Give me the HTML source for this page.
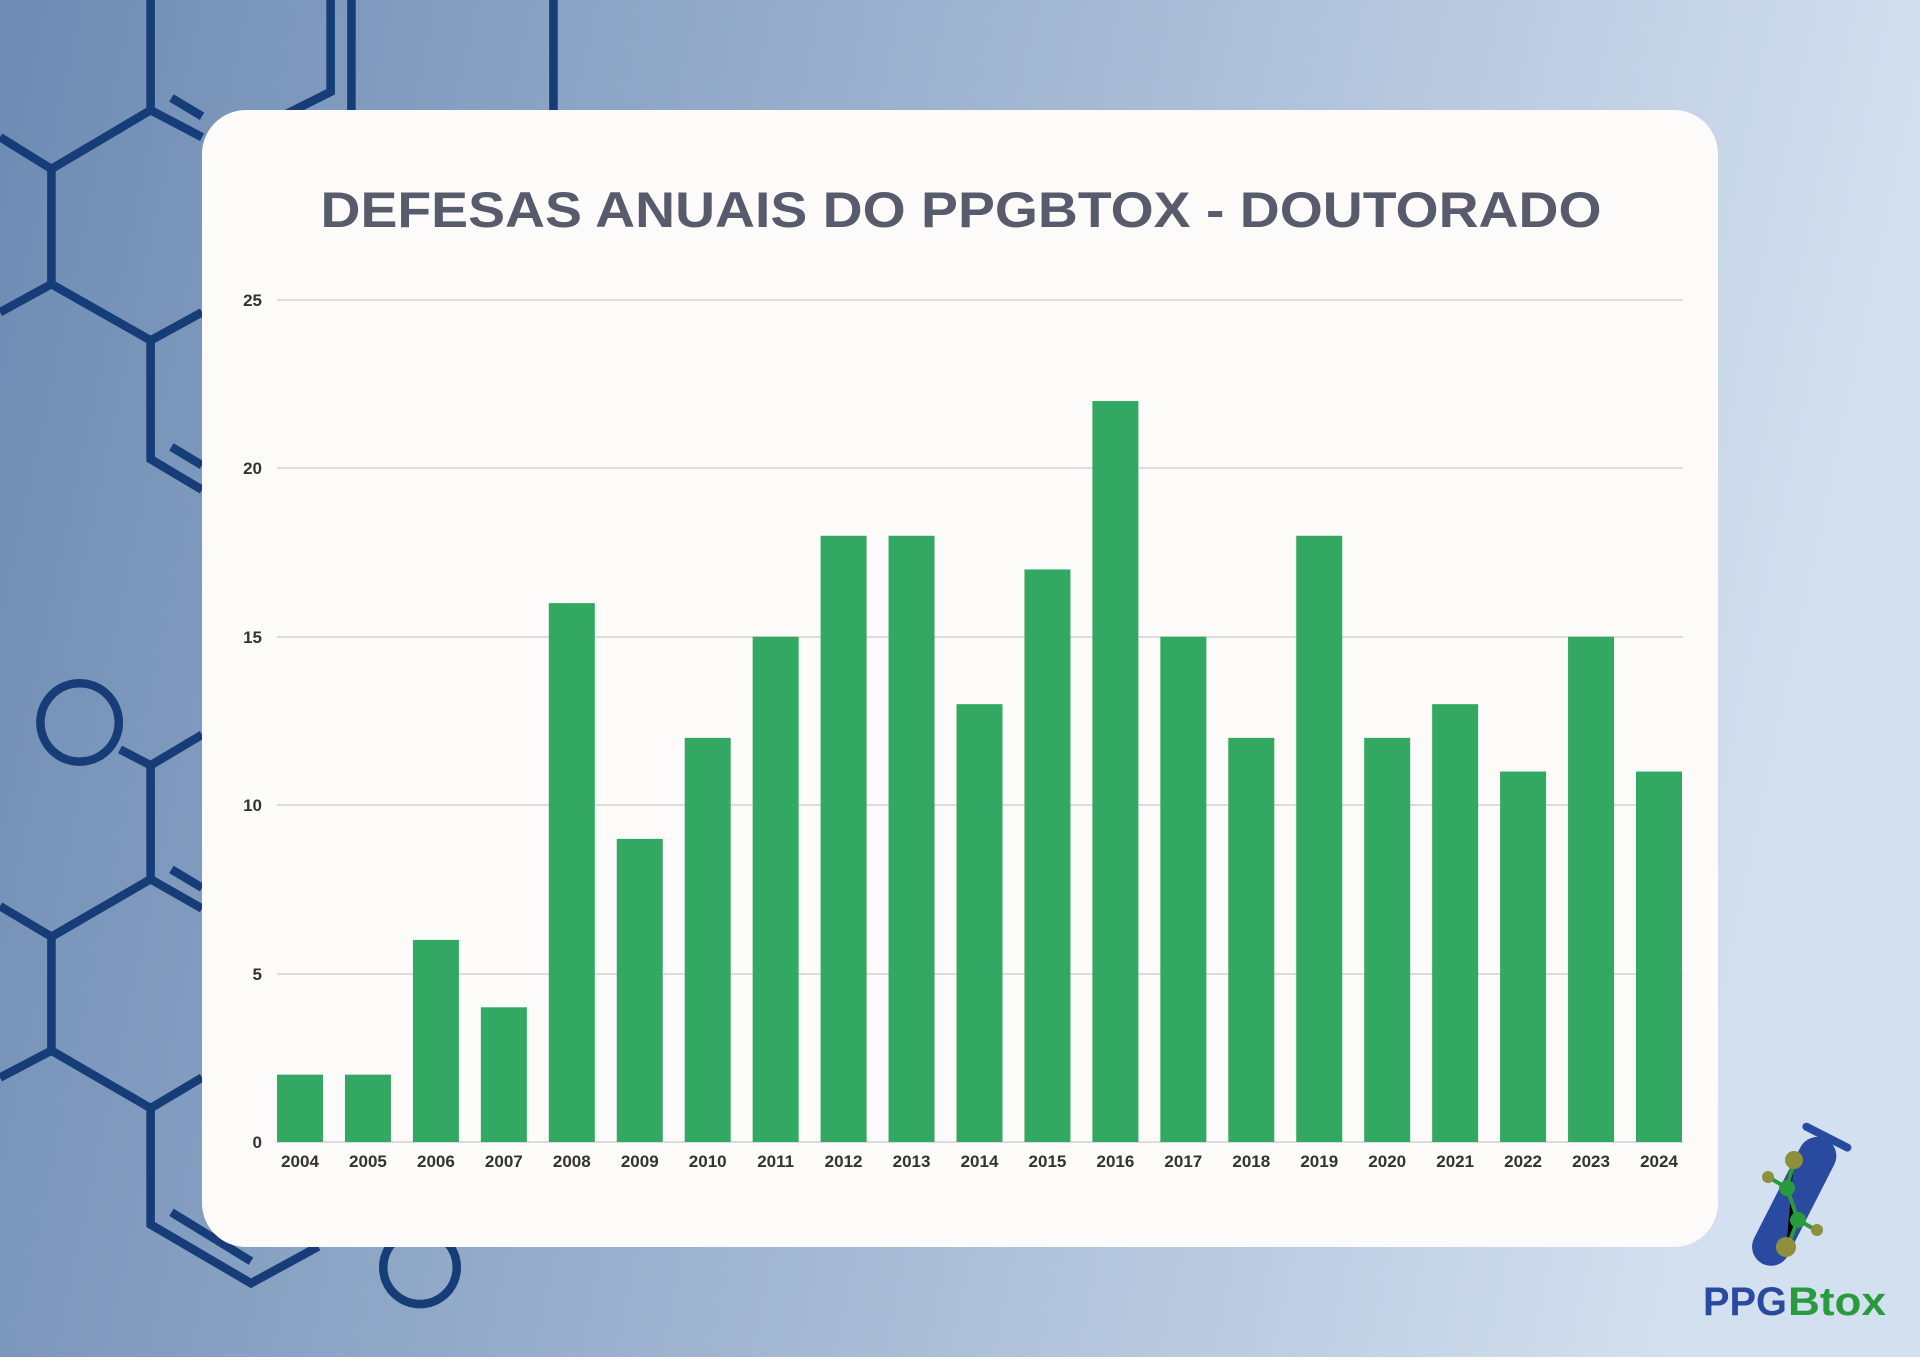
<!DOCTYPE html>
<html><head><meta charset="utf-8"><style>html,body{margin:0;padding:0}body{width:1920px;height:1357px;overflow:hidden}</style></head>
<body>
<svg width="1920" height="1357" viewBox="0 0 1920 1357" xmlns="http://www.w3.org/2000/svg">
<defs><linearGradient id="bg" x1="0" y1="0" x2="1" y2="0.15"><stop offset="0" stop-color="#6d8bb3"/><stop offset="0.5" stop-color="#9fb4d1"/><stop offset="1" stop-color="#d3e0ef"/></linearGradient></defs>
<rect width="1920" height="1357" fill="url(#bg)"/>
<g transform="scale(1.2245)" fill="none" stroke="#163d78" stroke-width="7">
<polyline points="123,0 123,90 42,138 42,232 123,278 165,255"/>
<polyline points="0,112 42,138"/><polyline points="0,255 42,232"/>
<polyline points="123,90 165,112"/>
<polyline points="123,278 123,375 165,400"/>
<polyline points="140,80 165,95"/><polyline points="140,365 165,380"/>
<polyline points="270,0 270,75 230,95"/><polyline points="287,0 287,90"/><polyline points="452,0 452,90"/>
<circle cx="65" cy="590" r="32"/>
<polyline points="98,612 123,625 165,600"/>
<polyline points="123,625 123,718 42,765 42,858 123,905 123,1000 205,1048 260,1018"/>
<polyline points="0,740 42,765"/><polyline points="0,880 42,858"/>
<polyline points="123,718 165,742"/><polyline points="123,905 165,880"/>
<polyline points="140,710 165,725"/><polyline points="140,990 205,1030"/>
<circle cx="343" cy="1035" r="30"/>
</g>
<rect x="202" y="110" width="1516" height="1137" rx="44" fill="#fdfbfa"/>
<text x="961" y="227" text-anchor="middle" font-family="Liberation Sans, sans-serif" font-weight="bold" font-size="50" fill="#585b6c" textLength="1281" lengthAdjust="spacingAndGlyphs">DEFESAS ANUAIS DO PPGBTOX - DOUTORADO</text>
<g stroke="#dcdcdc" stroke-width="2">
<line x1="277" y1="300" x2="1683" y2="300"/><line x1="277" y1="468" x2="1683" y2="468"/><line x1="277" y1="637" x2="1683" y2="637"/><line x1="277" y1="805" x2="1683" y2="805"/><line x1="277" y1="974" x2="1683" y2="974"/><line x1="277" y1="1142" x2="1683" y2="1142"/>
</g>
<g font-family="Liberation Sans, sans-serif" font-weight="bold" font-size="17" fill="#333" text-anchor="end">
<text x="262" y="306">25</text><text x="262" y="474">20</text><text x="262" y="643">15</text><text x="262" y="811">10</text><text x="262" y="980">5</text><text x="262" y="1148">0</text>
</g>
<g id="bars" fill="#33a862"></g>
<g id="labels" font-family="Liberation Sans, sans-serif" font-weight="bold" font-size="17" fill="#333" text-anchor="middle"></g>
<g transform="translate(1796,1200) rotate(27)">
<rect x="-20" y="-68" width="38" height="140" rx="19" fill="#2a4aa0"/>
<rect x="-28" y="-74" width="54" height="8" rx="4" fill="#2a4aa0"/>
</g>
<g stroke="#2a9a3e" stroke-width="4"><polyline points="1794,1160 1787,1188 1798,1220 1786,1250"/><line x1="1770" y1="1178" x2="1787" y2="1188"/><line x1="1798" y1="1220" x2="1816" y2="1230"/></g>
<circle cx="1794" cy="1160" r="9" fill="#8e8f3a"/><circle cx="1768" cy="1177" r="6" fill="#8e8f3a"/><circle cx="1787" cy="1188" r="8" fill="#2a9a3e"/><circle cx="1798" cy="1220" r="8" fill="#2a9a3e"/><circle cx="1817" cy="1230" r="6" fill="#8e8f3a"/><circle cx="1786" cy="1247" r="10" fill="#8e8f3a"/>
<text x="1703" y="1315" font-family="Liberation Sans, sans-serif" font-weight="bold" font-size="40" fill="#2a4aa0" textLength="84" lengthAdjust="spacingAndGlyphs">PPG</text>
<text x="1788" y="1315" font-family="Liberation Sans, sans-serif" font-weight="bold" font-size="40" fill="#2a9a3e" textLength="98" lengthAdjust="spacingAndGlyphs">Btox</text>
<script>
var d=[2,2,6,4,16,9,12,15,18,18,13,17,22,15,12,18,12,13,11,15,11];
var b=document.getElementById('bars'),l=document.getElementById('labels'),ns='http://www.w3.org/2000/svg';
d.forEach(function(v,i){var x=277+i*67.95,h=v*33.68;var r=document.createElementNS(ns,'rect');r.setAttribute('x',x);r.setAttribute('y',1142-h);r.setAttribute('width',46);r.setAttribute('height',h);b.appendChild(r);
var t=document.createElementNS(ns,'text');t.setAttribute('x',x+23);t.setAttribute('y',1167);t.textContent=2004+i;l.appendChild(t);});
</script>
</svg>
</body></html>
